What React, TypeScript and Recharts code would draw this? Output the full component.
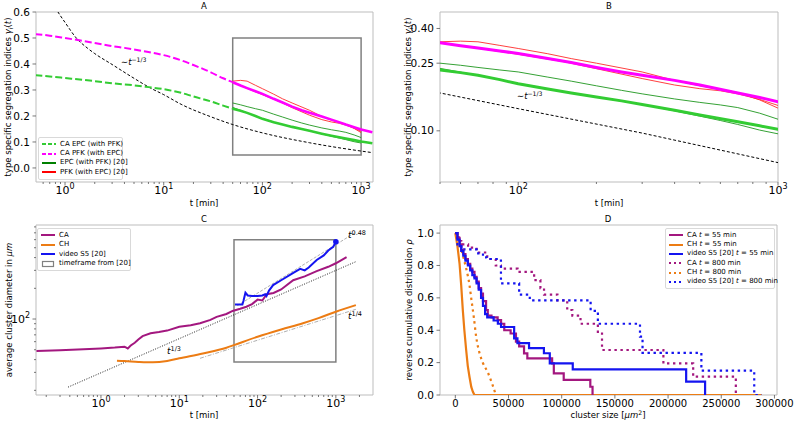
import React from "react";
import { LineChart, Line, XAxis, YAxis, ReferenceArea } from "recharts";

type Pt = [number, number];

// ---------- A / B : type specific segregation indices ----------
const CA_EPC: Pt[] = [
  [0.5, 0.357], [0.7, 0.352], [1, 0.346], [2, 0.334], [3, 0.326], [5, 0.318], [7, 0.311],
  [10, 0.303], [15, 0.289], [20, 0.275], [30, 0.256], [40, 0.24], [50, 0.228],
  [60, 0.22], [70, 0.212], [85, 0.2], [100, 0.189], [130, 0.176], [160, 0.167], [200, 0.158],
  [250, 0.15], [300, 0.143], [400, 0.132], [500, 0.124], [700, 0.113], [850, 0.107],
  [1000, 0.102], [1300, 0.095],
];
const CA_PFK: Pt[] = [
  [0.5, 0.515], [0.7, 0.509], [1, 0.5], [1.5, 0.489], [2, 0.481], [3, 0.469], [4, 0.462],
  [5, 0.456], [7, 0.446], [10, 0.434], [15, 0.414], [20, 0.396], [30, 0.368], [40, 0.345],
  [50, 0.33], [60, 0.317], [70, 0.307], [85, 0.295], [100, 0.285], [130, 0.266], [160, 0.252],
  [200, 0.236], [250, 0.222], [300, 0.212], [400, 0.198], [500, 0.186], [700, 0.167],
  [850, 0.157], [1000, 0.148], [1300, 0.137],
];
const EPC_EXP_1: Pt[] = [
  [50, 0.25], [60, 0.243], [70, 0.236], [85, 0.228], [100, 0.222], [130, 0.207], [160, 0.196],
  [200, 0.184], [250, 0.173], [300, 0.165], [400, 0.154], [500, 0.147], [600, 0.142],
  [700, 0.137], [850, 0.127], [1000, 0.117],
];
const EPC_EXP_2: Pt[] = [
  [50, 0.233], [70, 0.212], [100, 0.19], [150, 0.17], [200, 0.158], [300, 0.143], [400, 0.131],
  [500, 0.122], [600, 0.115], [700, 0.109], [850, 0.101], [1000, 0.096],
];
const PFK_EXP_1: Pt[] = [
  [50, 0.334], [60, 0.337], [70, 0.334], [85, 0.318], [100, 0.305], [130, 0.284], [160, 0.266],
  [200, 0.25], [300, 0.222], [400, 0.198], [500, 0.184], [600, 0.176], [700, 0.168],
  [850, 0.152], [1000, 0.136],
];
const PFK_EXP_2: Pt[] = [
  [50, 0.33], [70, 0.306], [100, 0.282], [150, 0.255], [200, 0.232], [300, 0.203], [400, 0.186],
  [500, 0.177], [600, 0.172], [700, 0.165], [850, 0.153], [1000, 0.141],
];
const T_POW_13: Pt[] = [
  [0.7, 0.65], [0.8, 0.615], [0.9, 0.585], [1, 0.56], [1.3, 0.5], [1.7, 0.46], [2, 0.44],
  [3, 0.398], [5, 0.345], [7.3, 0.308], [10, 0.282], [15, 0.245], [30, 0.197], [50, 0.167],
  [100, 0.135], [300, 0.097], [1000, 0.065], [1300, 0.059],
];
const BOX_T = [50, 1000];
const BOX_G = [0.05, 0.5];

// ---------- C : average cluster diameter ----------
const CA_DIAM: Pt[] = [
  [0.15, 48.5], [0.3, 49.5], [0.6, 50.5], [1, 51.5], [1.5, 52.5], [2, 53.5], [2.2, 51.5],
  [2.4, 55], [2.7, 58.5], [3, 63], [3.4, 68], [4.3, 72.5], [5.5, 74.5], [7, 77], [10, 84],
  [14, 87], [18.4, 91], [25, 98], [30, 105], [40, 112], [48, 120], [60, 126], [72, 132],
  [85, 140], [100, 155], [115, 152], [131, 175], [160, 180], [200, 195], [285, 240],
  [400, 262], [569, 295], [800, 325], [1000, 352], [1370, 405],
];
const CH_DIAM: Pt[] = [
  [1.6, 39], [2, 38.7], [3, 38], [4.6, 37.6], [7, 38.8], [10, 41.2], [20, 46], [40, 52.3],
  [50, 55.5], [100, 67], [200, 79], [380, 91], [600, 102], [1000, 118], [1800, 137],
];
const VIDEO_DIAM: Pt[] = [
  [51.5, 139], [64, 139], [66, 150], [70, 181], [75, 170], [85, 168], [100, 168], [115, 170],
  [125, 175], [130, 168], [140, 190], [158, 215], [200, 240], [286, 284], [350, 310],
  [400, 300], [450, 320], [569, 379], [700, 420], [800, 470], [926, 511], [1000, 573],
];
const FIT_048: Pt[] = [[55, 135], [1750, 700]];
const FIT_13: Pt[] = [[0.38, 21.5], [1800, 365]];
const FIT_14: Pt[] = [[18.4, 41.2], [1800, 124.5]];
const BOX_D = [38, 600];

// ---------- D : reverse cumulative distribution ----------
const CA_55: Pt[] = [
  [0, 1.0], [2000, 0.97], [4000, 0.93], [5600, 0.895], [7500, 0.87], [9500, 0.84],
  [11800, 0.81], [14000, 0.78], [16000, 0.76], [18000, 0.73], [20000, 0.7], [22000, 0.66],
  [24200, 0.627], [26000, 0.58], [28900, 0.525], [30500, 0.49], [34000, 0.48], [39800, 0.463],
  [43000, 0.44], [46000, 0.4], [52000, 0.38], [57000, 0.33], [60000, 0.3], [64600, 0.257],
  [67700, 0.226], [91000, 0.195], [92600, 0.134], [101900, 0.093], [126900, 0.051], [129000, 0],
];
const VIDEO_55: Pt[] = [
  [0, 1.0], [2000, 0.96], [4000, 0.92], [5600, 0.89], [7500, 0.86], [9500, 0.83], [11800, 0.8],
  [14000, 0.77], [16000, 0.74], [18000, 0.72], [20000, 0.69], [22000, 0.65], [24200, 0.6],
  [26000, 0.55], [28000, 0.5], [30000, 0.48], [36000, 0.46], [40000, 0.44], [43000, 0.42],
  [55300, 0.35], [58400, 0.32], [69300, 0.289], [83300, 0.258], [88800, 0.195],
  [110400, 0.158], [217000, 0.082], [234800, 0],
];
const CH_55: Pt[] = [
  [0, 1.0], [2000, 0.92], [4000, 0.81], [5500, 0.68], [7100, 0.52], [8500, 0.4],
  [10200, 0.278], [11700, 0.18], [13300, 0.113], [15000, 0.05], [16500, 0.02], [18000, 0],
  [288000, 0],
];
const CA_800: Pt[] = [
  [0, 1.0], [3000, 0.95], [5600, 0.93], [12000, 0.91], [20000, 0.88], [30000, 0.84],
  [38000, 0.8], [42900, 0.78], [58500, 0.76], [74100, 0.71], [80000, 0.66], [83400, 0.62],
  [96000, 0.585], [105200, 0.525], [110000, 0.49], [117700, 0.44], [134000, 0.38],
  [137900, 0.278], [195600, 0.195], [223600, 0.113], [263700, 0],
];
const CH_800: Pt[] = [
  [2000, 1.0], [5600, 0.9], [8000, 0.84], [10260, 0.78], [13300, 0.68], [14900, 0.6],
  [17400, 0.48], [19600, 0.36], [22700, 0.26], [25800, 0.2], [30500, 0.14], [35000, 0.062],
  [38100, 0],
];
const VIDEO_800: Pt[] = [
  [0, 1.0], [2000, 0.93], [5600, 0.9], [20000, 0.875], [26000, 0.85], [29500, 0.84],
  [40000, 0.83], [42900, 0.69], [60000, 0.62], [70000, 0.585], [127200, 0.52], [134000, 0.44],
  [173600, 0.36], [176000, 0.26], [231300, 0.15], [281000, 0], [288100, 0],
];

const D_XTICKS = [0, 50000, 100000, 150000, 200000, 250000, 300000];
const D_YTICKS = [0, 0.2, 0.4, 0.6, 0.8, 1.0];
const A_YTICKS = [0, 0.1, 0.2, 0.3, 0.4, 0.5, 0.6];
const B_YTICKS = [0.1, 0.25, 0.4];

const A_X = [0.508, 1320];
const A_Y = [-0.054, 0.6];
const B_X = [50, 1000];
const B_Y = [0.05, 0.5];
const C_X = [0.148, 2980];
const C_Y = [18, 835];
const D_X = [-14400, 302400];
const D_Y = [0, 1.05];

// colours
const GREEN_CA = "#33cc33";
const GREEN_EXP = "#1e961e";
const MAGENTA = "#ff00ff";
const RED = "#ff2a2a";
const PURPLE = "#a3177f";
const ORANGE = "#ec7c14";
const BLUE = "#1414f0";
const FRAME = "#bdbdbd";
const TICK = "#555";
const FONT = "'DejaVu Sans', sans-serif";

const pts = (a: Pt[]) => a.map(([x, y]) => ({ x, y }));

const logTicks = (lo: number, hi: number) => {
  const out: number[] = [];
  for (let e = -1; e <= 3; e++)
    for (let k = 1; k <= 9; k++) {
      const v = +(k * Math.pow(10, e)).toPrecision(6);
      if (v >= lo && v <= hi) out.push(v);
    }
  return out;
};
const isPow10 = (v: number) => Math.abs(Math.log10(v) - Math.round(Math.log10(v))) < 1e-6;

const logXTick = (props: any) => {
  const { x, y, payload } = props;
  const v = payload.value;
  const major = isPow10(v);
  return (
    <g>
      <line x1={x} x2={x} y1={y} y2={y + (major ? 3.5 : 2)} stroke={TICK} strokeWidth={0.8} />
      {major && (
        <text x={x} y={y + 12} textAnchor="middle" fontSize={11} fill="#000" fontFamily={FONT}>
          10<tspan dy={-5} fontSize={8}>{Math.round(Math.log10(v))}</tspan>
        </text>
      )}
    </g>
  );
};

const logYTick = (props: any) => {
  const { x, y, payload } = props;
  const v = payload.value;
  const major = isPow10(v);
  return (
    <g>
      <line x1={x} x2={x - (major ? 3.5 : 2)} y1={y} y2={y} stroke={TICK} strokeWidth={0.8} />
      {major && (
        <text x={x - 6} y={y + 4} textAnchor="end" fontSize={11} fill="#000" fontFamily={FONT}>
          10<tspan dy={-5} fontSize={8}>{Math.round(Math.log10(v))}</tspan>
        </text>
      )}
    </g>
  );
};

const linYTick = (digits: number) => (props: any) => {
  const { x, y, payload } = props;
  return (
    <g>
      <line x1={x} x2={x - 3.5} y1={y} y2={y} stroke={TICK} strokeWidth={0.8} />
      <text x={x - 6} y={y + 3.6} textAnchor="end" fontSize={10.5} fill="#000" fontFamily={FONT}>
        {Number(payload.value).toFixed(digits)}
      </text>
    </g>
  );
};

const linXTick = (props: any) => {
  const { x, y, payload } = props;
  return (
    <g>
      <line x1={x} x2={x} y1={y} y2={y + 3.5} stroke={TICK} strokeWidth={0.8} />
      <text x={x} y={y + 11.5} textAnchor="middle" fontSize={10} fill="#000" fontFamily={FONT}>
        {String(payload.value)}
      </text>
    </g>
  );
};

const axisCommon = {
  tickLine: false,
  axisLine: false,
  tickSize: 0,
  tickMargin: 0,
  interval: 0 as const,
  allowDataOverflow: true,
  type: "number" as const,
};

const lineCommon = {
  dataKey: "y",
  dot: false,
  activeDot: false,
  isAnimationActive: false,
};

function Frame({ x, y }: { x: number[]; y: number[] }) {
  return (
    <ReferenceArea x1={x[0]} x2={x[1]} y1={y[0]} y2={y[1]} fill="none" stroke={FRAME} strokeWidth={1} />
  );
}

function PanelA() {
  return (
    <div style={{ position: "absolute", left: 0, top: 0 }}>
      <LineChart width={400} height={212} margin={{ top: 12, right: 27, bottom: 0, left: 0 }}>
        <XAxis {...axisCommon} dataKey="x" scale="log" domain={A_X} ticks={logTicks(A_X[0], A_X[1])} tick={logXTick} height={30} />
        <YAxis {...axisCommon} scale="linear" domain={A_Y} ticks={A_YTICKS} tick={linYTick(1)} width={36} />
        <Line {...lineCommon} data={pts(T_POW_13)} type="monotone" stroke="#000" strokeWidth={1} strokeDasharray="3 2" />
        <Line {...lineCommon} data={pts(CA_EPC.filter((p) => p[0] <= 50))} type="monotone" stroke={GREEN_CA} strokeWidth={2} strokeDasharray="7 3" />
        <Line {...lineCommon} data={pts(CA_PFK.filter((p) => p[0] <= 50))} type="monotone" stroke={MAGENTA} strokeWidth={2} strokeDasharray="7 3" />
        <Line {...lineCommon} data={pts(EPC_EXP_1)} type="linear" stroke={GREEN_EXP} strokeWidth={0.9} />
        <Line {...lineCommon} data={pts(EPC_EXP_2)} type="linear" stroke={GREEN_EXP} strokeWidth={0.9} />
        <Line {...lineCommon} data={pts(PFK_EXP_1)} type="linear" stroke={RED} strokeWidth={0.9} />
        <Line {...lineCommon} data={pts(PFK_EXP_2)} type="linear" stroke={RED} strokeWidth={0.9} />
        <Line {...lineCommon} data={pts(CA_EPC.filter((p) => p[0] >= 50))} type="linear" stroke={GREEN_CA} strokeWidth={2.6} />
        <Line {...lineCommon} data={pts(CA_PFK.filter((p) => p[0] >= 50))} type="linear" stroke={MAGENTA} strokeWidth={2.6} />
        <ReferenceArea x1={BOX_T[0]} x2={BOX_T[1]} y1={BOX_G[0]} y2={BOX_G[1]} fill="none" stroke="#808080" strokeWidth={1.5} />
        <Frame x={A_X} y={A_Y} />
      </LineChart>
    </div>
  );
}

function PanelB() {
  return (
    <div style={{ position: "absolute", left: 400, top: 0 }}>
      <LineChart width={397} height={212} margin={{ top: 12, right: 19, bottom: 0, left: 0 }}>
        <XAxis {...axisCommon} dataKey="x" scale="log" domain={B_X} ticks={logTicks(B_X[0], B_X[1])} tick={logXTick} height={30} />
        <YAxis {...axisCommon} scale="log" domain={B_Y} ticks={B_YTICKS} tick={linYTick(2)} width={40} />
        <Line {...lineCommon} data={pts(T_POW_13)} type="linear" stroke="#000" strokeWidth={1} strokeDasharray="3 2" />
        <Line {...lineCommon} data={pts(EPC_EXP_1)} type="linear" stroke={GREEN_EXP} strokeWidth={0.9} />
        <Line {...lineCommon} data={pts(EPC_EXP_2)} type="linear" stroke={GREEN_EXP} strokeWidth={0.9} />
        <Line {...lineCommon} data={pts(PFK_EXP_1)} type="linear" stroke={RED} strokeWidth={0.9} />
        <Line {...lineCommon} data={pts(PFK_EXP_2)} type="linear" stroke={RED} strokeWidth={0.9} />
        <Line {...lineCommon} data={pts(CA_EPC)} type="linear" stroke={GREEN_CA} strokeWidth={3} />
        <Line {...lineCommon} data={pts(CA_PFK)} type="linear" stroke={MAGENTA} strokeWidth={3} />
        <Frame x={B_X} y={B_Y} />
      </LineChart>
    </div>
  );
}

const lastDot = (n: number) => (p: any) =>
  p.index === n - 1 ? (
    <circle key={p.index} cx={p.cx} cy={p.cy} r={2.8} fill={BLUE} />
  ) : (
    <g key={p.index} />
  );

function PanelC() {
  return (
    <div style={{ position: "absolute", left: 0, top: 212 }}>
      <LineChart width={400} height={211} margin={{ top: 13, right: 27, bottom: 0, left: 0 }}>
        <XAxis {...axisCommon} dataKey="x" scale="log" domain={C_X} ticks={logTicks(C_X[0], C_X[1])} tick={logXTick} height={28} />
        <YAxis {...axisCommon} scale="log" domain={C_Y} ticks={logTicks(C_Y[0], C_Y[1])} tick={logYTick} width={36} />
        <Line {...lineCommon} data={pts(FIT_13)} type="linear" stroke="#222" strokeWidth={1} strokeDasharray="1 1.5" />
        <Line {...lineCommon} data={pts(FIT_048)} type="linear" stroke="#9a9a9a" strokeWidth={0.8} strokeDasharray="3 1.5" />
        <Line {...lineCommon} data={pts(FIT_14)} type="linear" stroke="#9a9a9a" strokeWidth={0.8} strokeDasharray="4 1.5 1 1.5" />
        <Line {...lineCommon} data={pts(CA_DIAM)} type="linear" stroke={PURPLE} strokeWidth={2} />
        <Line {...lineCommon} data={pts(CH_DIAM)} type="monotone" stroke={ORANGE} strokeWidth={2} />
        <Line {...lineCommon} data={pts(VIDEO_DIAM)} type="linear" stroke={BLUE} strokeWidth={2} dot={lastDot(VIDEO_DIAM.length)} />
        <ReferenceArea x1={BOX_T[0]} x2={BOX_T[1]} y1={BOX_D[0]} y2={BOX_D[1]} fill="none" stroke="#808080" strokeWidth={1.5} />
        <Frame x={C_X} y={C_Y} />
      </LineChart>
    </div>
  );
}

function PanelD() {
  const dotted = "2.4 3.6";
  return (
    <div style={{ position: "absolute", left: 400, top: 212 }}>
      <LineChart width={397} height={211} margin={{ top: 13, right: 20, bottom: 0, left: 0 }}>
        <XAxis {...axisCommon} dataKey="x" scale="linear" domain={D_X} ticks={D_XTICKS} tick={linXTick} height={28} />
        <YAxis {...axisCommon} scale="linear" domain={D_Y} ticks={D_YTICKS} tick={linYTick(1)} width={40} />
        <Line {...lineCommon} data={pts(CH_55)} type="linear" stroke={ORANGE} strokeWidth={2.2} />
        <Line {...lineCommon} data={pts(CH_800)} type="monotone" stroke={ORANGE} strokeWidth={2.2} strokeDasharray={dotted} />
        <Line {...lineCommon} data={pts(CA_800)} type="stepAfter" stroke={PURPLE} strokeWidth={2.2} strokeDasharray={dotted} />
        <Line {...lineCommon} data={pts(VIDEO_800)} type="stepAfter" stroke={BLUE} strokeWidth={2.2} strokeDasharray={dotted} />
        <Line {...lineCommon} data={pts(CA_55)} type="stepAfter" stroke={PURPLE} strokeWidth={2.2} />
        <Line {...lineCommon} data={pts(VIDEO_55)} type="stepAfter" stroke={BLUE} strokeWidth={2.2} />
        <Frame x={D_X} y={D_Y} />
      </LineChart>
    </div>
  );
}

type Item = { label: React.ReactNode; color?: string; dash?: string; w?: number; kind?: "line" | "rect" };

function Handle({ color, dash, w = 2, kind = "line" }: Item) {
  return (
    <svg width={14} height={8} style={{ display: "block", flex: "none" }}>
      {kind === "rect" ? (
        <rect x={1.5} y={1.5} width={11} height={5} fill="#fff" stroke="#808080" strokeWidth={1.2} />
      ) : (
        <line x1={0} x2={14} y1={4} y2={4} stroke={color} strokeWidth={w} strokeDasharray={dash} />
      )}
    </svg>
  );
}

function LegendBox({ left, top, width, rowH, items }: { left: number; top: number; width: number; rowH: number; items: Item[] }) {
  return (
    <div
      style={{
        position: "absolute", left, top, width, boxSizing: "border-box",
        border: "1px solid #d9d9d9", borderRadius: 2, background: "rgba(255,255,255,0.85)",
        padding: "1.5px 3px", fontSize: 7, lineHeight: `${rowH}px`,
      }}
    >
      {items.map((it, i) => (
        <div key={i} style={{ display: "flex", alignItems: "center", gap: 4, height: rowH, whiteSpace: "nowrap" }}>
          <Handle {...it} />
          <span>{it.label}</span>
        </div>
      ))}
    </div>
  );
}

function Txt({ left, top, size = 8.5, children, center = true }: { left: number; top: number; size?: number; children: React.ReactNode; center?: boolean }) {
  return (
    <div
      style={{
        position: "absolute", left, top, fontSize: size, whiteSpace: "nowrap", lineHeight: 1,
        transform: center ? "translate(-50%, -50%)" : undefined,
      }}
    >
      {children}
    </div>
  );
}

function VTxt({ left, top, children }: { left: number; top: number; children: React.ReactNode }) {
  return (
    <div
      style={{
        position: "absolute", left, top, fontSize: 8.5, whiteSpace: "nowrap", lineHeight: 1,
        transform: "translate(-50%, -50%) rotate(-90deg)",
      }}
    >
      {children}
    </div>
  );
}

const sup = (s: string) => <sup style={{ fontSize: "0.72em", verticalAlign: "0.45em" }}>{s}</sup>;
const gammaLabel = (
  <>
    type specific segregation indices <i>γ</i>
    <sub style={{ fontSize: "0.72em", verticalAlign: "-0.2em" }}><i>i</i></sub>(<i>t</i>)
  </>
);
const it55 = (s: string) => <>{s} <i>t</i> = 55 min</>;
const it800 = (s: string) => <>{s} <i>t</i> = 800 min</>;

export default function App() {
  return (
    <div
      style={{
        position: "absolute", left: 0, top: 0, width: 797, height: 423, background: "#fff",
        fontFamily: FONT, color: "#000", overflow: "hidden",
      }}
    >
      <PanelA />
      <PanelB />
      <PanelC />
      <PanelD />

      <Txt left={204} top={6}>A</Txt>
      <Txt left={609} top={6}>B</Txt>
      <Txt left={204} top={219}>C</Txt>
      <Txt left={608} top={219}>D</Txt>

      <Txt left={204} top={203}>t [min]</Txt>
      <Txt left={609} top={203}>t [min]</Txt>
      <Txt left={204} top={415}>t [min]</Txt>
      <Txt left={608} top={415}>cluster size [<i>μm</i>{sup("2")}]</Txt>

      <VTxt left={9} top={97}>{gammaLabel}</VTxt>
      <VTxt left={409} top={97}>{gammaLabel}</VTxt>
      <VTxt left={9} top={310}>average cluster diameter in <i>μm</i></VTxt>
      <VTxt left={409} top={310}>reverse cumulative distribution <i>ρ</i></VTxt>

      <Txt left={121} top={57} size={8.5} center={false}>∼<i>t</i>{sup("−1/3")}</Txt>
      <Txt left={517} top={91} size={8.5} center={false}>∼<i>t</i>{sup("−1/3")}</Txt>
      <Txt left={348} top={230} size={9} center={false}><i>t</i>{sup("0.48")}</Txt>
      <Txt left={348} top={311} size={9} center={false}><i>t</i>{sup("1/4")}</Txt>
      <Txt left={167} top={346} size={9} center={false}><i>t</i>{sup("1/3")}</Txt>

      <LegendBox
        left={38} top={137} width={85} rowH={9.4}
        items={[
          { label: "CA EPC (with PFK)", color: GREEN_CA, dash: "4 2" },
          { label: "CA PFK (with EPC)", color: MAGENTA, dash: "4 2" },
          { label: "EPC (with PFK) [20]", color: "#008000" },
          { label: "PFK (with EPC) [20]", color: "#ff0000" },
        ]}
      />
      <LegendBox
        left={37} top={228} width={94} rowH={9.6}
        items={[
          { label: "CA", color: PURPLE },
          { label: "CH", color: ORANGE },
          { label: "video S5 [20]", color: BLUE },
          { label: "timeframe from [20]", kind: "rect" },
        ]}
      />
      <LegendBox
        left={665} top={228} width={110} rowH={9.4}
        items={[
          { label: it55("CA"), color: PURPLE },
          { label: it55("CH"), color: ORANGE },
          { label: it55("video S5 [20]"), color: BLUE },
          { label: it800("CA"), color: PURPLE, dash: "2 3" },
          { label: it800("CH"), color: ORANGE, dash: "2 3" },
          { label: it800("video S5 [20]"), color: BLUE, dash: "2 3" },
        ]}
      />
    </div>
  );
}
